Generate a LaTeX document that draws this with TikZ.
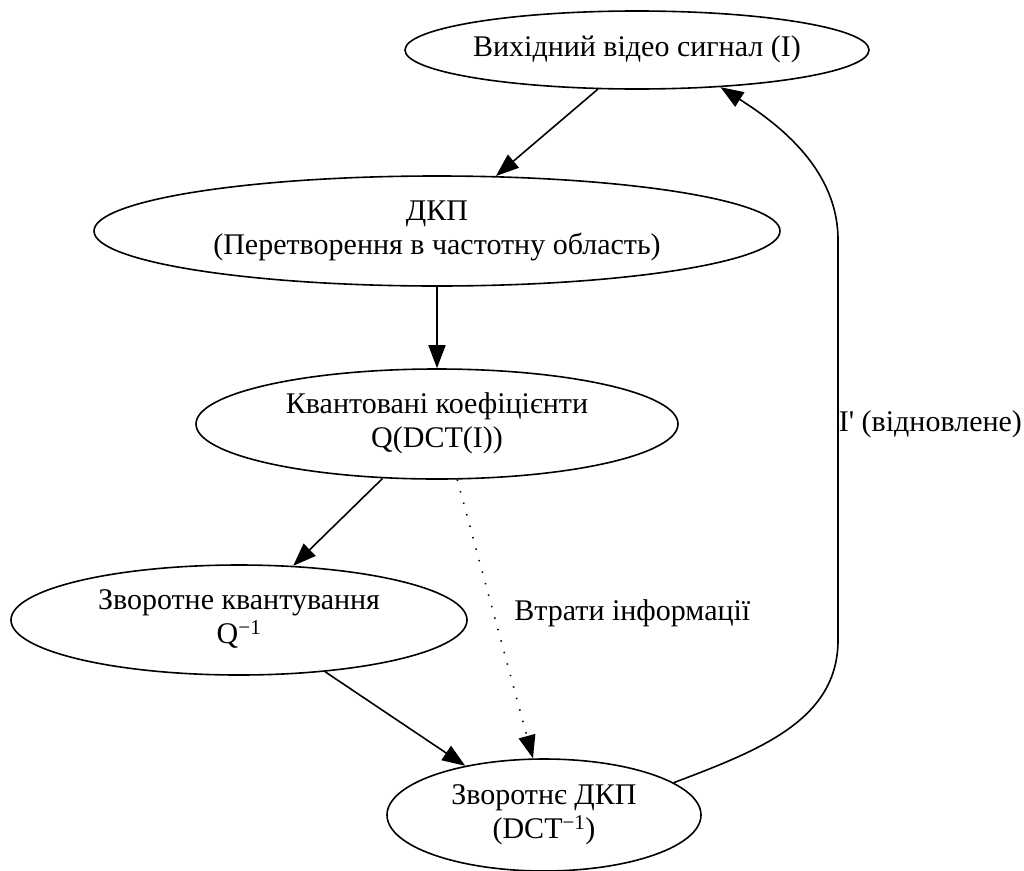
\documentclass[tikz,border=0pt]{standalone}
\usepackage{fontspec}
\setmainfont{Liberation Serif}
\usetikzlibrary{shapes.geometric,arrows.meta}

% label of a node, kept at zero width so the ellipse size is set by hand
\newcommand{\nodetext}[1]{\makebox[0pt]{\begin{tabular}{@{}c@{}}#1\end{tabular}}}

\begin{document}
\begin{tikzpicture}[x=1pt,y=-1pt,
    main node/.style={ellipse,draw,line width=1.6pt,inner sep=0pt,
                      font=\fontsize{30}{34}\selectfont},
    flow/.style={-{Triangle[length=23pt,width=17pt]},line width=1.6pt},
    loss/.style={flow,dash pattern=on 1.4pt off 10.5pt},
    every label node/.style={font=\fontsize{30}{34}\selectfont,inner sep=0pt}]

  \useasboundingbox (0,0) rectangle (1024,870);

  \node[main node,minimum width=464,minimum height=78] (1) at (637,50) {\nodetext{Вихідний відео сигнал (I)}};
  \node[main node,minimum width=686,minimum height=110] (2) at (437,231) {\nodetext{ДКП\\(Перетворення в частотну область)}};
  \node[main node,minimum width=482,minimum height=110] (3) at (437,424) {\nodetext{Квантовані коефіцієнти\\Q(DCT(I))}};
  \node[main node,minimum width=456,minimum height=110] (4) at (239,620) {\nodetext{Зворотне квантування\\Q\textsuperscript{−1}}};
  \node[main node,minimum width=314,minimum height=112] (5) at (544,815) {\nodetext{Зворотнє ДКП\\(DCT\textsuperscript{−1})}};

  \path
    (1.-135) edge[flow] (2.43)
    (2.south) edge[flow] (3.north)
    (3.-135) edge[flow] (4.45)
    (4.-31) edge[flow] (5.148)
    (3.-70) edge[loss] node[every label node,pos=0.48,anchor=west,xshift=20pt] {Втрати інформації} (5.101);

  \draw[flow] (5.14) .. controls (760,750) and (838,720) .. (838,640)
    -- node[every label node,anchor=west,pos=0.54] {I\textquotesingle{} (відновлене)} (838,240)
    .. controls (838,170) and (780,125) .. (1.-24);
\end{tikzpicture}
\end{document}
